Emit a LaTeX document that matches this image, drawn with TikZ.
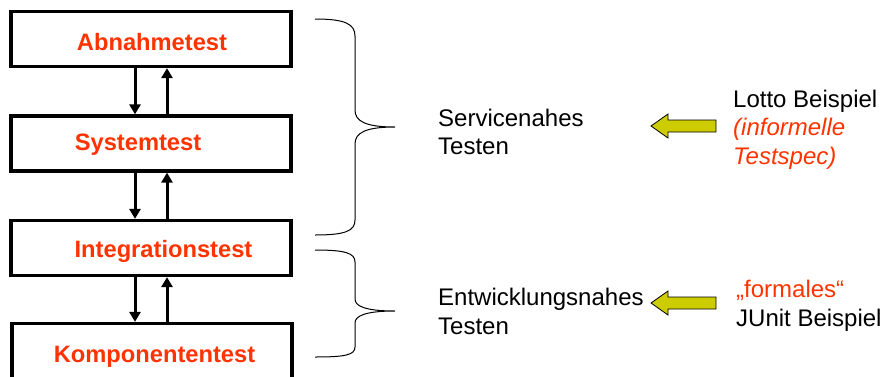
\documentclass[tikz,border=0pt]{standalone}
\usepackage{fontspec}
\setmainfont{Liberation Sans}
\usetikzlibrary{arrows.meta}
\definecolor{tred}{HTML}{FF3300}
\definecolor{tyel}{HTML}{CCCC00}
\begin{document}
\begin{tikzpicture}[x=1pt,y=-1pt,
  testbox/.style={draw=black,line width=3.2pt,minimum width=280pt,minimum height=55pt,inner sep=0pt,fill=white},
  boxtext/.style={anchor=base,inner sep=0pt,text=tred,font=\fontsize{23.7}{28}\selectfont\bfseries},
  flow/.style={line width=3pt,-{Triangle[length=10pt,width=11pt]}},
  brace/.style={line width=1pt},
  plain/.style={anchor=west,inner sep=0pt,align=left,font=\fontsize{24}{28.5}\selectfont},
  yarrow/.style={draw=black,line width=0.8pt,fill=tyel,line join=miter}
]
\useasboundingbox (0,0) rectangle (884,376);
% boxes
\node[testbox] (b1) at (151,39) {};
\node[testbox] (b2) at (151,143.5) {};
\node[testbox] (b3) at (151,248) {};
\node[testbox] (b4) at (152,351) {};
\node[boxtext] (t1) at (152,50) {Abnahmetest};
\node[boxtext] (t2) at (138,150) {Systemtest};
\node[boxtext] (t3) at (163.5,257) {Integrationstest};
\node[boxtext] (t4) at (154.5,362) {Komponententest};
% arrows
\coordinate (dx) at (135,0);
\coordinate (ux) at (167,0);
\draw[flow] (b1.south -| dx) -- (b2.north -| dx);
\draw[flow] (b2.north -| ux) -- (b1.south -| ux);
\draw[flow] (b2.south -| dx) -- (b3.north -| dx);
\draw[flow] (b3.north -| ux) -- (b2.south -| ux);
\draw[flow] (b3.south -| dx) -- (b4.north -| dx);
\draw[flow] (b4.north -| ux) -- (b3.south -| ux);
% braces
\draw[brace] (315,19) .. controls (345,19) and (355,24) .. (355,36) -- (355,110)
  .. controls (355,121) and (365,127) .. (395,127)
  .. controls (365,127) and (355,133) .. (355,144) -- (355,220)
  .. controls (355,231) and (345,235) .. (315,235);
\draw[brace] (315,250) .. controls (345,250) and (355,253) .. (355,262) -- (355,299)
  .. controls (355,306) and (365,311) .. (395,311)
  .. controls (365,311) and (355,316) .. (355,323) -- (355,347)
  .. controls (355,355) and (345,357) .. (315,357);
% labels
\node[plain] (sn) at (438,132) {Servicenahes\\Testen};
\node[plain] (en) at (438,311.5) {Entwicklungsnahes\\Testen};
\node[plain] (lotto) at (733,129.5) {Lotto Beispiel\\\textcolor{tred}{\itshape (informelle}\\\textcolor{tred}{\itshape Testspec)}};
\node[plain] (junit) at (736,306) {\textcolor{tred}{„formales“}\\JUnit Beispiel};
% yellow arrows
\draw[yarrow] (716,120) -- (668,120) -- (668,114) -- (651,126) -- (668,138) -- (668,132) -- (716,132) -- cycle;
\draw[yarrow] (716,297) -- (668,297) -- (668,291) -- (651,303) -- (668,315) -- (668,309) -- (716,309) -- cycle;
\end{tikzpicture}
\end{document}
